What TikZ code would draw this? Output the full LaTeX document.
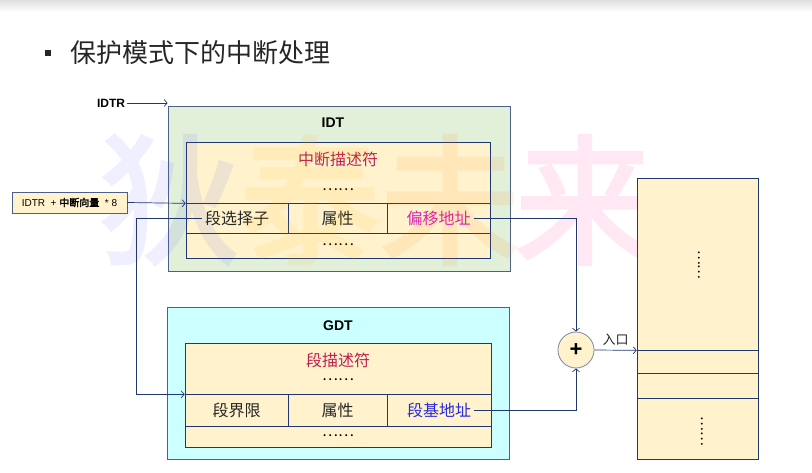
\documentclass[tikz,border=0pt]{standalone}
\usepackage{fontspec}
\setmainfont{Noto Sans CJK SC}
\newfontfamily\latfont{Liberation Sans}
\newfontfamily\cjkbold[FakeBold=2.5]{Noto Sans CJK SC}
\usetikzlibrary{arrows.meta,positioning}
\definecolor{linecol}{RGB}{32,56,110}
\definecolor{idtfill}{RGB}{226,239,217}
\definecolor{gdtfill}{RGB}{204,255,255}
\definecolor{cellfill}{RGB}{255,242,204}
\definecolor{descred}{RGB}{190,30,80}
\definecolor{offmag}{RGB}{220,30,180}
\definecolor{baseblue}{RGB}{40,40,220}
\definecolor{plusedge}{RGB}{120,138,170}

\begin{document}
\begin{tikzpicture}[x=1pt,y=-1pt,
  outerbox/.style={draw=linecol!80,line width=0.8pt,inner sep=0pt},
  cell/.style={draw=linecol,line width=0.7pt,fill=cellfill,inner sep=0pt},
  lbl/.style={inner sep=3pt,font=\fontsize{16}{16}\selectfont,text=black!85},
  desc/.style={lbl,text=descred},
  dotsrow/.style={inner sep=0pt,font=\fontsize{15}{15}\selectfont},
  tname/.style={font=\latfont\bfseries\fontsize{14}{14}\selectfont},
  conn/.style={draw=linecol,line width=0.7pt,-{Straight Barb[length=3pt,width=7pt]}},
  wmark/.style={font=\cjkbold\fontsize{140}{140}\selectfont}]
\useasboundingbox (0,0) rectangle (812,473);
\shade[top color=gray!25,bottom color=white] (0,0) rectangle (812,12);

% title
\fill[black!85] (45,50) rectangle (51,56);
\node[anchor=west,inner sep=0pt,font=\fontsize{26}{26}\selectfont,text=black!85] (title) at (70,53) {保护模式下的中断处理};

% IDT
\node[outerbox,fill=idtfill,minimum width=342pt,minimum height=165pt] (idt) at (339,188.5) {};
\node[tname] (idtname) at (333,123) {IDT};
\node[cell,minimum width=304pt,minimum height=61pt] (idthead) at (338,172.5) {};
\node[desc] (idtdesc) at (338,159) {中断描述符};
\node[dotsrow] at (338,190) {……};
\node[cell,minimum width=102pt,minimum height=30pt] (idtsel) at (237,218) {};
\node[cell,minimum width=99pt,minimum height=30pt] (idtattr) at (337.5,218) {};
\node[cell,minimum width=103pt,minimum height=30pt] (idtoff) at (438.5,218) {};
\node[lbl] (seltxt) at (idtsel) {段选择子};
\node[lbl] at (idtattr) {属性};
\node[lbl,text=offmag] (offtxt) at (idtoff) {偏移地址};
\node[cell,minimum width=304pt,minimum height=25pt] (idttail) at (338,245.5) {};
\node[dotsrow] at (338,245) {……};

% GDT
\node[outerbox,fill=gdtfill,minimum width=342pt,minimum height=152pt] (gdt) at (338,383) {};
\node[tname] (gdtname) at (338,326) {GDT};
\node[cell,minimum width=306pt,minimum height=51pt] (gdthead) at (338,368.5) {};
\node[desc] (gdtdesc) at (338,360) {段描述符};
\node[dotsrow] at (338,380) {……};
\node[cell,minimum width=103pt,minimum height=32pt] (gdtlim) at (236.5,410) {};
\node[cell,minimum width=99pt,minimum height=32pt] (gdtattr) at (337.5,410) {};
\node[cell,minimum width=104pt,minimum height=32pt] (gdtbase) at (439,410) {};
\node[lbl] at (gdtlim) {段界限};
\node[lbl] at (gdtattr) {属性};
\node[lbl,text=baseblue] (basetxt) at (gdtbase) {段基地址};
\node[cell,minimum width=306pt,minimum height=21pt] (gdttail) at (338,436.5) {};
\node[dotsrow] at (338,436) {……};

% watermark
\begin{scope}[opacity=0.09,transparency group]
\node[wmark,text=blue!70] at (170,200) {狄};
\node[wmark,text=orange!60!yellow] at (310,200) {泰};
\node[wmark,text=orange] at (450,200) {未};
\node[wmark,text=red!50!magenta] at (585,200) {来};
\end{scope}

% memory
\node[cell,minimum width=121pt,minimum height=172pt] (memtop) at (697.5,264) {};
\node[cell,minimum width=121pt,minimum height=23pt] (mementry) at (697.5,361.5) {};
\node[cell,minimum width=121pt,minimum height=25pt] (memnext) at (697.5,385.5) {};
\node[cell,minimum width=121pt,minimum height=61pt] (membot) at (697.5,428.5) {};
\node[dotsrow,rotate=-90,font=\fontsize{14}{14}\selectfont] at (699,265) {……};
\node[dotsrow,rotate=-90,font=\fontsize{14}{14}\selectfont] at (702,431) {……};

% inputs
\node[font=\latfont\bfseries\fontsize{12}{12}\selectfont,inner sep=2pt] (idtr) at (111,103) {IDTR};
\node[draw=linecol!80,line width=0.7pt,fill=cellfill,minimum width=115pt,minimum height=21pt,inner sep=0pt,font=\fontsize{10}{10}\selectfont] (calcbox) at (69.5,202.5) {{\latfont IDTR\ \ + }{\cjkbold 中断向量}{\latfont\ \ * 8}};
\node[circle,draw=plusedge,line width=0.8pt,fill=cellfill,minimum size=36pt,inner sep=0pt,font=\latfont\bfseries\fontsize{22}{22}\selectfont] (plus) at (576,350) {+};

% connectors
\draw[conn] (idtr.east) -- (idtr.east -| idt.west);
\draw[conn] (calcbox.east) -- (idthead.south west);
\draw[conn] (seltxt.west) -- ([xshift=-31pt]idt.west |- seltxt.west) |- (gdthead.south west);
\draw[conn] (offtxt.east) -| (plus.north);
\draw[conn] (basetxt.east) -| (plus.south);
\draw[conn] (plus.east) -- (memtop.south west) node[midway,above=1pt,font=\fontsize{13}{13}\selectfont,text=black!85] {入口};
\end{tikzpicture}
\end{document}
